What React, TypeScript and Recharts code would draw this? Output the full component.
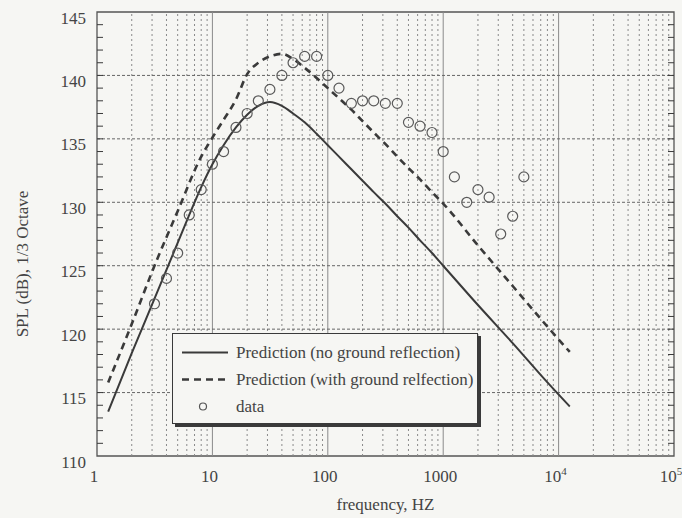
import React from 'react';
import { ComposedChart, Line, Scatter, XAxis, YAxis, ReferenceLine, ReferenceArea, Legend, Label } from 'recharts';

// prediction without ground reflection (solid)
const NO_GROUND_FREQ = [1.25, 2, 3.15, 5, 6.3, 8, 10, 12.5, 16, 20, 25, 31.5, 40, 50, 63, 80, 100, 125, 160, 200, 250, 315, 400, 500, 630, 800, 1000, 2000, 4000, 8000, 12500];
const NO_GROUND_SPL = [113.5, 118.1, 122.4, 126.8, 129.0, 131.2, 133.0, 134.5, 135.9, 136.9, 137.6, 137.9, 137.6, 137.0, 136.3, 135.4, 134.5, 133.6, 132.6, 131.7, 130.8, 129.9, 128.9, 128.0, 127.0, 126.0, 125.0, 121.9, 118.9, 115.8, 113.9];

// prediction with ground reflection (dashed)
const WITH_GROUND_FREQ = [1.25, 2, 3.15, 5, 8, 10, 12.5, 16, 20, 25, 31.5, 40, 50, 63, 80, 100, 125, 160, 200, 250, 315, 400, 500, 630, 800, 1000, 2000, 4000, 8000, 12500];
const WITH_GROUND_SPL = [115.8, 120.4, 125.0, 129.3, 133.6, 135.1, 136.5, 138.1, 140.1, 141.0, 141.5, 141.7, 141.3, 140.6, 139.8, 139.0, 138.2, 137.3, 136.4, 135.5, 134.6, 133.6, 132.7, 131.8, 130.8, 129.9, 126.6, 123.4, 120.2, 118.2];

// measured 1/3 octave band levels
const DATA_FREQ = [3.15, 4, 5, 6.3, 8, 10, 12.5, 16, 20, 25, 31.5, 40, 50, 63, 80, 100, 125, 160, 200, 250, 315, 400, 500, 630, 800, 1000, 1250, 1600, 2000, 2500, 3150, 4000, 5000];
const DATA_SPL = [122.0, 124.0, 126.0, 129.0, 131.0, 133.0, 134.0, 135.9, 137.0, 138.0, 138.9, 140.0, 141.0, 141.5, 141.5, 140.0, 139.0, 137.8, 138.0, 138.0, 137.8, 137.8, 136.3, 136.0, 135.5, 134.0, 132.0, 130.0, 131.0, 130.4, 127.5, 128.9, 132.0];

const DECADES = [1, 10, 100, 1000, 10000, 100000];
const DECADE_LABELS = ['1', '10', '100', '1000', '10|4', '10|5'];
const MINOR_STEPS = [2, 3, 4, 5, 6, 7, 8, 9];
const Y_MAJOR = [110, 115, 120, 125, 130, 135, 140, 145];
const Y_MIN = 110;
const Y_MAX = 145;

const toPoints = (fs: number[], vs: number[]) => fs.map((f, i) => ({ f, db: vs[i] }));
const noGround = toPoints(NO_GROUND_FREQ, NO_GROUND_SPL);
const withGround = toPoints(WITH_GROUND_FREQ, WITH_GROUND_SPL);
const measured = toPoints(DATA_FREQ, DATA_SPL);

const minorX = DECADES.slice(0, -1).flatMap(d => MINOR_STEPS.map(m => d * m));
const xTicks = DECADES;
const yTicks: number[] = [];
for (let v = Y_MIN; v <= Y_MAX; v++) yTicks.push(v);

const W = 682;
const H = 518;
const MARGIN = { top: 12, right: 8, bottom: 0, left: 37 };
const Y_WIDTH = 60;
const PLOT_LEFT = MARGIN.left + Y_WIDTH;
const PLOT_RIGHT = W - MARGIN.right;

const BG = '#f6f6f3';
const INK = '#3a3a3a';
const TEXT = '#444';
const FONT = '"Liberation Serif", "Times New Roman", serif';

const XTick = (props: any) => {
  const { x, y, payload } = props;
  const idx = DECADES.indexOf(payload.value);
  if (idx < 0) return null;
  const [base, exp] = DECADE_LABELS[idx].split('|');
  return (
    <text x={x - 3} y={y + 18} textAnchor="middle" fontSize={17} fill={TEXT} fontFamily={FONT}>
      {base}
      {exp && <tspan dy={-7} fontSize={11}>{exp}</tspan>}
    </text>
  );
};

const YTick = (props: any) => {
  const { y, payload } = props;
  const v = payload.value;
  const inner = v > Y_MIN && v < Y_MAX;
  return (
    <g>
      {inner && <line x1={PLOT_LEFT} x2={PLOT_LEFT + 6} y1={y} y2={y} stroke={INK} strokeWidth={1} />}
      {inner && <line x1={PLOT_RIGHT - 6} x2={PLOT_RIGHT} y1={y} y2={y} stroke={INK} strokeWidth={1} />}
      {Y_MAJOR.includes(v) && (
        <text x={PLOT_LEFT - 11} y={y + 6} textAnchor="end" dominantBaseline="central" fontSize={17} fill={TEXT} fontFamily={FONT}>
          {v}
        </text>
      )}
    </g>
  );
};

const LegendBox = ({ payload }: any) => (
  <div
    style={{
      width: 306,
      height: 91,
      boxSizing: 'border-box',
      background: BG,
      border: `1.5px solid ${INK}`,
      boxShadow: `3px 3px 0 ${INK}`,
      paddingTop: 5,
      fontFamily: FONT,
    }}
  >
    {(payload || []).map((entry: any) => (
      <div key={entry.value} style={{ display: 'flex', alignItems: 'center', height: 27 }}>
        <svg width={56} height={27} style={{ display: 'block' }}>
          {entry.type === 'circle' ? (
            <circle cx={30} cy={13.5} r={3.5} fill="none" stroke="#555" strokeWidth={1.2} />
          ) : (
            <line
              x1={9}
              x2={55}
              y1={13.5}
              y2={13.5}
              stroke={INK}
              strokeWidth={entry.payload?.strokeDasharray ? 2.4 : 2}
              strokeDasharray={entry.payload?.strokeDasharray}
            />
          )}
        </svg>
        <span style={{ marginLeft: 7, fontSize: 17, color: TEXT, whiteSpace: 'nowrap' }}>{entry.value}</span>
      </div>
    ))}
  </div>
);

export default function App() {
  return (
    <div style={{ position: 'absolute', left: 0, top: 0, width: W, height: H, background: BG }}>
      <ComposedChart width={W} height={H} margin={MARGIN}>
        <XAxis
          type="number"
          dataKey="f"
          scale="log"
          domain={[1, 100000]}
          ticks={xTicks}
          allowDataOverflow
          axisLine={false}
          tickLine={false}
          height={62}
          tick={<XTick />}
          interval={0}
        >
          <Label
            content={() => (
              <text x={(PLOT_LEFT + PLOT_RIGHT) / 2} y={510} textAnchor="middle" fontSize={17} fill={TEXT} fontFamily={FONT}>
                frequency, HZ
              </text>
            )}
          />
        </XAxis>
        <YAxis
          type="number"
          dataKey="db"
          domain={[Y_MIN, Y_MAX]}
          ticks={yTicks}
          allowDataOverflow
          axisLine={false}
          tickLine={false}
          width={Y_WIDTH}
          tick={<YTick />}
          interval={0}
        >
          <Label
            content={() => (
              <text x={22} y={264} transform="rotate(-90 22 264)" textAnchor="middle" dominantBaseline="central" fontSize={17} fill={TEXT} fontFamily={FONT}>
                SPL (dB), 1/3 Octave
              </text>
            )}
          />
        </YAxis>

        {minorX.map(v => (
          <ReferenceLine key={`mx${v}`} x={v} stroke="#8a8a8a" strokeWidth={1} strokeDasharray="2 3" />
        ))}
        {DECADES.slice(1, -1).map(v => (
          <ReferenceLine key={`dx${v}`} x={v} stroke="#8a8a8a" strokeWidth={1} />
        ))}
        {Y_MAJOR.slice(1, -1).map(v => (
          <ReferenceLine key={`gy${v}`} y={v} stroke="#666" strokeWidth={1} strokeDasharray="3 2" />
        ))}
        <ReferenceArea x1={1} x2={100000} y1={Y_MIN} y2={Y_MAX} fill="none" stroke="#555" strokeWidth={1.3} />

        <Line
          data={noGround}
          dataKey="db"
          name="Prediction (no ground reflection)"
          type="monotone"
          stroke={INK}
          strokeWidth={2}
          dot={false}
          isAnimationActive={false}
        />
        <Line
          data={withGround}
          dataKey="db"
          name="Prediction (with ground relfection)"
          type="monotone"
          stroke={INK}
          strokeWidth={2.6}
          strokeDasharray="7 5"
          dot={false}
          isAnimationActive={false}
        />
        <Scatter
          data={measured}
          dataKey="db"
          name="data"
          legendType="circle"
          isAnimationActive={false}
          shape={(p: any) => <circle cx={p.cx} cy={p.cy} r={5} fill="none" stroke="#5a5a5a" strokeWidth={1.2} />}
        />

        <Legend
          layout="vertical"
          align="center"
          verticalAlign="middle"
          content={<LegendBox />}
          wrapperStyle={{ left: 172, top: 333, width: 306, height: 91 }}
        />
      </ComposedChart>
    </div>
  );
}
